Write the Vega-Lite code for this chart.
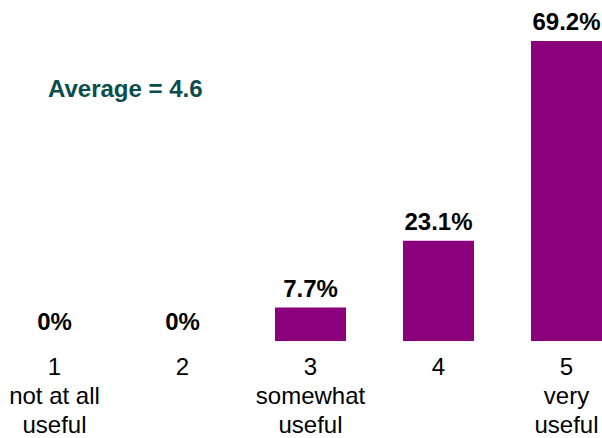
{
  "$schema": "https://vega.github.io/schema/vega-lite/v6.json",
  "width": 602,
  "height": 341,
  "autosize": {"type": "none"},
  "padding": {"left": 0, "top": 0, "right": 0, "bottom": 97},
  "background": "white",
  "config": {"view": {"stroke": null}, "font": "Liberation Sans"},
  "data": {"values": [
    {"rating": "1|not at all|useful", "pct": 0, "label": "0%"},
    {"rating": "2", "pct": 0, "label": "0%"},
    {"rating": "3|somewhat|useful", "pct": 7.7, "label": "7.7%"},
    {"rating": "4", "pct": 23.1, "label": "23.1%"},
    {"rating": "5|very|useful", "pct": 69.2, "label": "69.2%"}
  ]},
  "encoding": {
    "x": {
      "field": "rating", "type": "nominal", "sort": null,
      "scale": {"paddingInner": 0.4453, "paddingOuter": 0.0742, "align": 1},
      "axis": {
        "title": null, "domain": false, "ticks": false, "labelAngle": 0,
        "labelFont": "Liberation Sans", "labelFontSize": 24, "labelColor": "black",
        "labelPadding": 14, "labelLineHeight": 29,
        "labelExpr": "split(datum.label, '|')"
      }
    },
    "y": {
      "field": "pct", "type": "quantitative",
      "scale": {"domain": [0, 78.66], "nice": false},
      "axis": null
    }
  },
  "layer": [
    {"mark": {"type": "bar", "color": "#8B007B"}},
    {
      "mark": {"type": "text", "font": "Liberation Sans", "fontSize": 24, "fontWeight": "bold", "color": "black", "baseline": "alphabetic", "dy": -11},
      "encoding": {"text": {"field": "label"}}
    },
    {
      "transform": [{"filter": "datum.rating == '1|not at all|useful'"}],
      "mark": {"type": "text", "font": "Liberation Sans", "fontSize": 24, "fontWeight": "bold", "color": "#0A4D4D", "align": "left", "baseline": "alphabetic", "dx": -6.5},
      "encoding": {
        "y": {"datum": 56.3},
        "text": {"value": "Average = 4.6"}
      }
    }
  ]
}
